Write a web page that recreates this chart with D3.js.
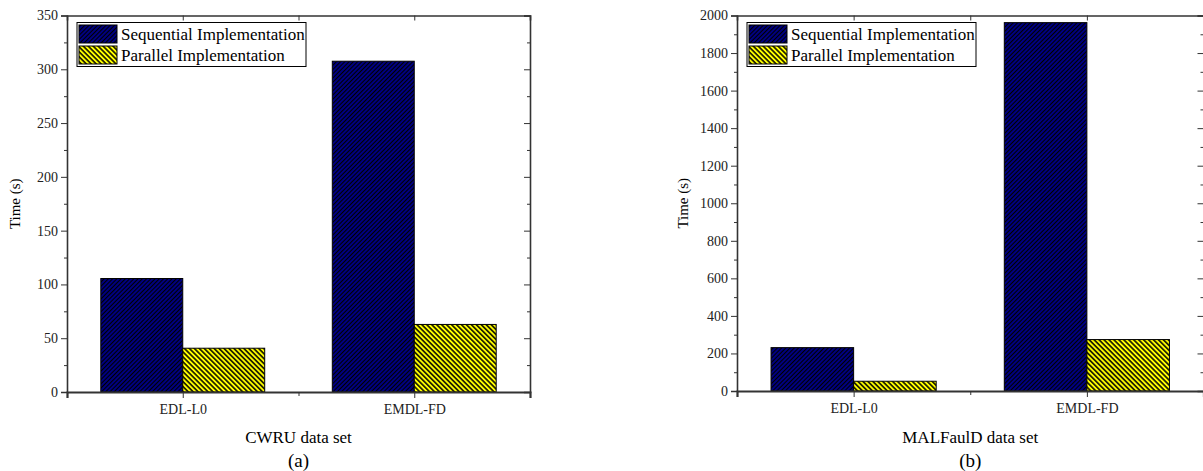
<!DOCTYPE html>
<html>
<head>
<meta charset="utf-8">
<script src="https://cdn.jsdelivr.net/npm/d3@7"></script>
<style>
  body { margin: 0; background: #fff; }
  svg { display: block; font-family: "Liberation Serif", "Times New Roman", serif; }
  .axis path, .axis line { stroke: #333; }
  .axis text { font-size: 14px; fill: #222; font-family: "Liberation Serif", serif; }
</style>
</head>
<body>
<svg id="chart" width="1203" height="471"></svg>
<script>
// data
const categories = ["EDL-L0", "EMDL-FD"];
const seriesNames = ["Sequential Implementation", "Parallel Implementation"];
const cwruSequential = [105.5, 307.5];
const cwruParallel = [40.7, 62.8];
const malSequential = [231, 1962];
const malParallel = [52, 274];
const cwruTicks = [0, 50, 100, 150, 200, 250, 300, 350];
const malTicks = [0, 200, 400, 600, 800, 1000, 1200, 1400, 1600, 1800, 2000];

const svg = d3.select("#chart");
const defs = svg.append("defs");

// hatch patterns
function hatch(id, bg, gap, lw, angle) {
  const p = defs.append("pattern")
    .attr("id", id)
    .attr("patternUnits", "userSpaceOnUse")
    .attr("width", gap).attr("height", gap)
    .attr("patternTransform", `rotate(${angle})`);
  p.append("rect").attr("width", gap).attr("height", gap).attr("fill", bg);
  p.append("line")
    .attr("x1", gap / 2).attr("y1", 0).attr("x2", gap / 2).attr("y2", gap)
    .attr("stroke", "#000").attr("stroke-width", lw);
}
hatch("hatchSeq", "#000080", 3, 1, 45);
hatch("hatchPar", "#ffff00", 3.5, 1.5, -45);
const fills = ["url(#hatchSeq)", "url(#hatchPar)"];

function drawPanel(opt) {
  const { left, right, top, bottom, max, ticks, minorStep, seq, par, xTitle, tag, yTitleX } = opt;
  const g = svg.append("g");

  const y = d3.scaleLinear().domain([0, max]).range([bottom, top]);
  const x = d3.scaleBand().domain(categories).range([left, right]).paddingInner(0).paddingOuter(0);
  const bw = x.bandwidth();
  const x1 = d3.scaleBand().domain(seriesNames).range([0, bw * 0.708]);
  const minors = d3.range(0, max + 0.001, minorStep).filter(v => ticks.indexOf(v) < 0);

  // bars
  const rows = categories.map((c, i) => ({ cat: c, vals: [seq[i], par[i]] }));
  g.selectAll(".grp")
    .data(rows)
    .enter().append("g")
    .attr("transform", d => `translate(${x(d.cat) + bw / 2 - bw * 0.354},0)`)
    .selectAll("rect")
    .data(d => d.vals.map((v, k) => ({ k, v })))
    .enter().append("rect")
    .attr("x", d => x1(seriesNames[d.k]))
    .attr("width", x1.bandwidth())
    .attr("y", d => y(d.v))
    .attr("height", d => y(0) - y(d.v))
    .attr("fill", d => fills[d.k])
    .attr("stroke", "#000")
    .attr("stroke-width", 1);

  // left axis
  g.append("g").attr("class", "axis").attr("transform", `translate(${left},0)`)
    .call(d3.axisLeft(y).tickValues(ticks).tickSize(6).tickPadding(3).tickFormat(d3.format("d")))
    .call(s => s.select(".domain").attr("stroke-width", 1.6));
  g.append("g").attr("class", "axis").attr("transform", `translate(${left},0)`)
    .call(d3.axisLeft(y).tickValues(minors).tickSize(3).tickFormat(""))
    .call(s => s.select(".domain").remove());

  // right axis, ticks inward
  g.append("g").attr("class", "axis").attr("transform", `translate(${right},0)`)
    .call(d3.axisLeft(y).tickValues(ticks).tickSize(6).tickFormat(""))
    .call(s => s.select(".domain").attr("stroke-width", 1.6));
  g.append("g").attr("class", "axis").attr("transform", `translate(${right},0)`)
    .call(d3.axisLeft(y).tickValues(minors).tickSize(3).tickFormat(""))
    .call(s => s.select(".domain").remove());

  // bottom and top axes
  const xl = d3.scaleLinear().domain([left, right]).range([left, right]);
  const centers = categories.map(c => x(c) + bw / 2);
  const mids = [x(categories[1])];
  g.append("g").attr("class", "axis").attr("transform", `translate(0,${bottom})`)
    .call(d3.axisBottom(xl).tickValues(centers).tickSize(6).tickPadding(6)
      .tickFormat((d, i) => categories[i]))
    .call(s => s.select(".domain").attr("stroke-width", 2.2).attr("stroke", "#000"));
  g.append("g").attr("class", "axis").attr("transform", `translate(0,${bottom})`)
    .call(d3.axisBottom(xl).tickValues(mids).tickSize(4).tickFormat(""))
    .call(s => s.select(".domain").remove());
  g.append("g").attr("class", "axis").attr("transform", `translate(0,${top})`)
    .call(d3.axisBottom(xl).tickValues(centers.concat(mids)).tickSize(5).tickFormat(""))
    .call(s => s.select(".domain").attr("stroke-width", 1.6));

  // titles
  g.append("text")
    .attr("transform", `translate(${yTitleX},${(top + bottom) / 2}) rotate(-90)`)
    .attr("text-anchor", "middle")
    .attr("font-size", 15)
    .text("Time (s)");
  g.append("text")
    .attr("x", (left + right) / 2).attr("y", 443)
    .attr("text-anchor", "middle").attr("font-size", 17)
    .text(xTitle);
  g.append("text")
    .attr("x", (left + right) / 2).attr("y", 467)
    .attr("text-anchor", "middle").attr("font-size", 19)
    .text(tag);

  // legend
  const lg = g.append("g").attr("transform", `translate(${left + 10},${top + 7})`);
  lg.append("rect")
    .attr("width", 229).attr("height", 44)
    .attr("fill", "#fff").attr("stroke", "#000").attr("stroke-width", 1);
  seriesNames.forEach((n, k) => {
    lg.append("rect")
      .attr("x", 2).attr("y", 2.5 + k * 21)
      .attr("width", 38).attr("height", 18)
      .attr("fill", fills[k]).attr("stroke", "#000").attr("stroke-width", 1);
    lg.append("text")
      .attr("x", 44).attr("y", 17 + k * 21)
      .attr("font-size", 17)
      .text(n);
  });
}

drawPanel({
  left: 67, right: 530, top: 15.5, bottom: 392, max: 350,
  ticks: cwruTicks, minorStep: 25,
  seq: cwruSequential, par: cwruParallel,
  xTitle: "CWRU data set", tag: "(a)", yTitleX: 20
});

drawPanel({
  left: 737, right: 1203.5, top: 15.5, bottom: 391, max: 2000,
  ticks: malTicks, minorStep: 100,
  seq: malSequential, par: malParallel,
  xTitle: "MALFaulD data set", tag: "(b)", yTitleX: 688
});
</script>
</body>
</html>
